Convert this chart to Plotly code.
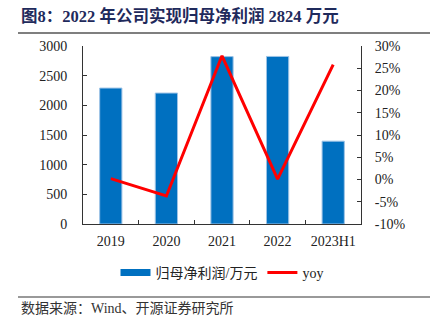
import plotly.graph_objects as go

years = ["2019", "2020", "2021", "2022", "2023H1"]
profit = [2291, 2207, 2821, 2824, 1396]
yoy = [0.2, -3.7, 27.8, 0.1, 25.8]
left_ticks = [0, 500, 1000, 1500, 2000, 2500, 3000]
right_ticks = [-10, -5, 0, 5, 10, 15, 20, 25, 30]
right_labels = [f"{v}%" for v in right_ticks]

W, H = 431, 327
L, R, T, B = 83, 70, 46, 103
pw, ph = W - L - R, H - T - B

def px(x):
    return (x - L) / pw

def py(y):
    return (H - B - y) / ph

serif = "Liberation Serif, Times New Roman, Noto Sans CJK SC, serif"

fig = go.Figure()
fig.add_trace(go.Bar(
    x=years, y=profit, name="归母净利润/万元",
    marker=dict(color="#0070C0", line=dict(color="#9DC3E6", width=1)),
    yaxis="y", showlegend=False, legendgroup="bar",
))
# legend proxy for the bar series (wide rectangle swatch)
fig.add_trace(go.Scatter(
    x=[None], y=[None], name="归母净利润/万元", mode="lines",
    line=dict(color="#0070C0", width=7), legendgroup="bar", yaxis="y",
))
fig.add_trace(go.Scatter(
    x=years, y=yoy, name="yoy", mode="lines",
    line=dict(color="#FF0000", width=3),
    yaxis="y2",
))

fig.update_layout(
    width=W, height=H,
    margin=dict(l=L, r=R, t=T, b=B),
    paper_bgcolor="white", plot_bgcolor="white",
    bargap=0.6,
    font=dict(family=serif, size=14, color="#222"),
    showlegend=True,
    legend=dict(orientation="h", x=0.5, xanchor="center", y=py(273), yanchor="middle",
                font=dict(size=14, family=serif), tracegroupgap=0,
                bgcolor="rgba(0,0,0,0)"),
    xaxis=dict(
        showline=True, linecolor="#333", linewidth=1,
        ticks="inside", tickson="boundaries", ticklen=4, tickcolor="#333",
        showgrid=False, tickfont=dict(size=14, family=serif), ticklabelstandoff=4,
    ),
    yaxis=dict(
        range=[0, 3000], tickvals=left_ticks, showline=True, linecolor="#333", linewidth=1,
        ticks="inside", ticklen=4, tickcolor="#333", showgrid=False, zeroline=False,
        tickfont=dict(size=14, family=serif), ticklabelstandoff=12,
    ),
    yaxis2=dict(
        range=[-10, 30], tickvals=right_ticks, ticktext=right_labels,
        overlaying="y", side="right",
        showline=True, linecolor="#333", linewidth=1,
        ticks="inside", ticklen=4, tickcolor="#333", showgrid=False, zeroline=False,
        tickfont=dict(size=14, family=serif), ticklabelstandoff=10,
    ),
    shapes=[
        dict(type="line", xref="paper", yref="paper", x0=px(18), x1=px(430), y0=py(33), y1=py(33),
             line=dict(color="#555", width=1.5)),
        dict(type="line", xref="paper", yref="paper", x0=px(18), x1=px(430), y0=py(297), y1=py(297),
             line=dict(color="#999", width=2)),
    ],
    annotations=[
        dict(text="<b>图8：2022 年公司实现归母净利润 2824 万元</b>", xref="paper", yref="paper",
             x=px(19), y=py(16), xanchor="left", yanchor="middle", showarrow=False,
             font=dict(size=16.5, color="#1F2A5C", family=serif)),
        dict(text="数据来源：Wind、开源证券研究所", xref="paper", yref="paper",
             x=px(19), y=py(308), xanchor="left", yanchor="middle", showarrow=False,
             font=dict(size=14, color="#333", family=serif)),
    ],
)

fig.write_html("out.html")
